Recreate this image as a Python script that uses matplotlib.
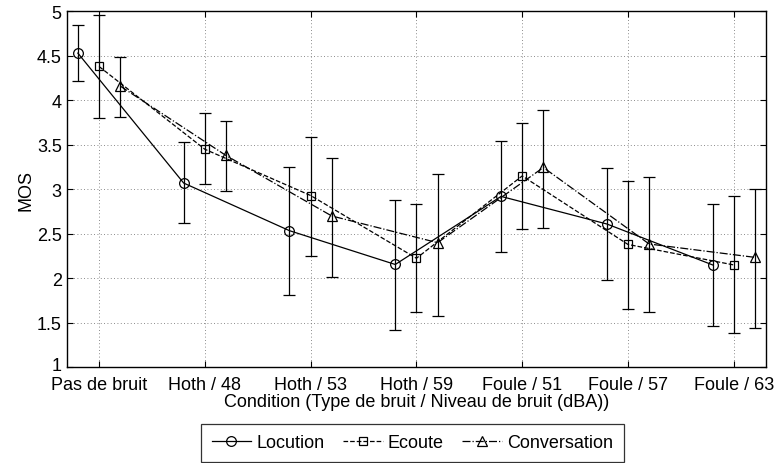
import matplotlib
matplotlib.use("Agg")
import matplotlib.pyplot as plt
import matplotlib.transforms as mtransforms
import numpy as np

plt.rcParams['font.family'] = ['Liberation Sans', 'DejaVu Sans']

conditions = ["Pas de bruit", "Hoth / 48", "Hoth / 53", "Hoth / 59",
              "Foule / 51", "Foule / 57", "Foule / 63"]

locution_mean = [4.53, 3.07, 2.535, 2.155, 2.92, 2.61, 2.15]
locution_upper = [4.85, 3.53, 3.255, 2.885, 3.54, 3.24, 2.84]
locution_lower = [4.22, 2.62, 1.81, 1.42, 2.29, 1.98, 1.46]

ecoute_mean = [4.38, 3.45, 2.93, 2.225, 3.15, 2.38, 2.15]
ecoute_upper = [4.96, 3.855, 3.59, 2.835, 3.745, 3.095, 2.92]
ecoute_lower = [3.80, 3.06, 2.25, 1.62, 2.555, 1.655, 1.38]

conv_mean = [4.16, 3.38, 2.70, 2.40, 3.245, 2.385, 2.235]
conv_upper = [4.485, 3.77, 3.355, 3.175, 3.89, 3.14, 3.005]
conv_lower = [3.815, 2.985, 2.015, 1.575, 2.565, 1.62, 1.44]

series_names = ["Locution", "Ecoute", "Conversation"]

FS = 13

fig = plt.figure(figsize=(7.78, 4.64), dpi=100)
ax = fig.add_axes([0.0865, 0.2063, 0.8975, 0.7672])

x = np.arange(1, len(conditions) + 1)
offsets = [-0.2, 0.0, 0.2]
styles = ['-', '--', '-.']
markers = ['o', 's', '^']
msizes = [7, 5.5, 7.5]
data = [(locution_mean, locution_upper, locution_lower),
        (ecoute_mean, ecoute_upper, ecoute_lower),
        (conv_mean, conv_upper, conv_lower)]

handles = []
for (m, u, l), off, ls, mk, ms, name in zip(data, offsets, styles, markers, msizes, series_names):
    m = np.array(m); u = np.array(u); l = np.array(l)
    xs = x + off
    ax.errorbar(xs, m, yerr=[m - l, u - m], fmt='none', ecolor='black',
                elinewidth=0.9, capsize=4.5, capthick=0.9, zorder=2)
    h, = ax.plot(xs, m, linestyle=ls, color='black', linewidth=0.9,
                 marker=mk, markersize=ms, markerfacecolor='none',
                 markeredgecolor='black', markeredgewidth=0.9, label=name, zorder=3)
    handles.append(h)

ax.set_xlim(0.7, 7.3)
ax.set_ylim(1, 5)
ax.set_xticks(x)
ax.set_xticklabels(conditions)
ax.set_yticks([1, 1.5, 2, 2.5, 3, 3.5, 4, 4.5, 5])
ax.set_yticklabels(["1", "1.5", "2", "2.5", "3", "3.5", "4", "4.5", "5"])
ax.tick_params(direction='in', length=4, labelsize=FS, width=0.8, top=True, right=True)
ax.tick_params(axis='x', pad=6)
ax.tick_params(axis='y', pad=4)
ax.grid(True, linestyle=(0, (1, 3)), color='#666666', linewidth=0.6)
for s in ax.spines.values():
    s.set_linewidth(1.0)

# nudge the lowest y tick label up slightly so it does not collide with the first x label
lbl = ax.get_yticklabels()[0]
lbl.set_transform(lbl.get_transform() + mtransforms.ScaledTranslation(0, 3 / 72, fig.dpi_scale_trans))

ax.set_xlabel("Condition (Type de bruit / Niveau de bruit (dBA))", fontsize=FS, labelpad=0)
ax.set_ylabel("MOS", fontsize=FS, labelpad=2)

leg = fig.legend(handles=handles, loc='lower center', bbox_to_anchor=(0.53, -0.018),
                 ncol=3, fontsize=FS, frameon=True, fancybox=False,
                 edgecolor='black', handlelength=2.2, handletextpad=0.3,
                 columnspacing=1.0, borderpad=0.6)
leg.get_frame().set_linewidth(0.9)

fig.savefig("out.png", dpi=100)
